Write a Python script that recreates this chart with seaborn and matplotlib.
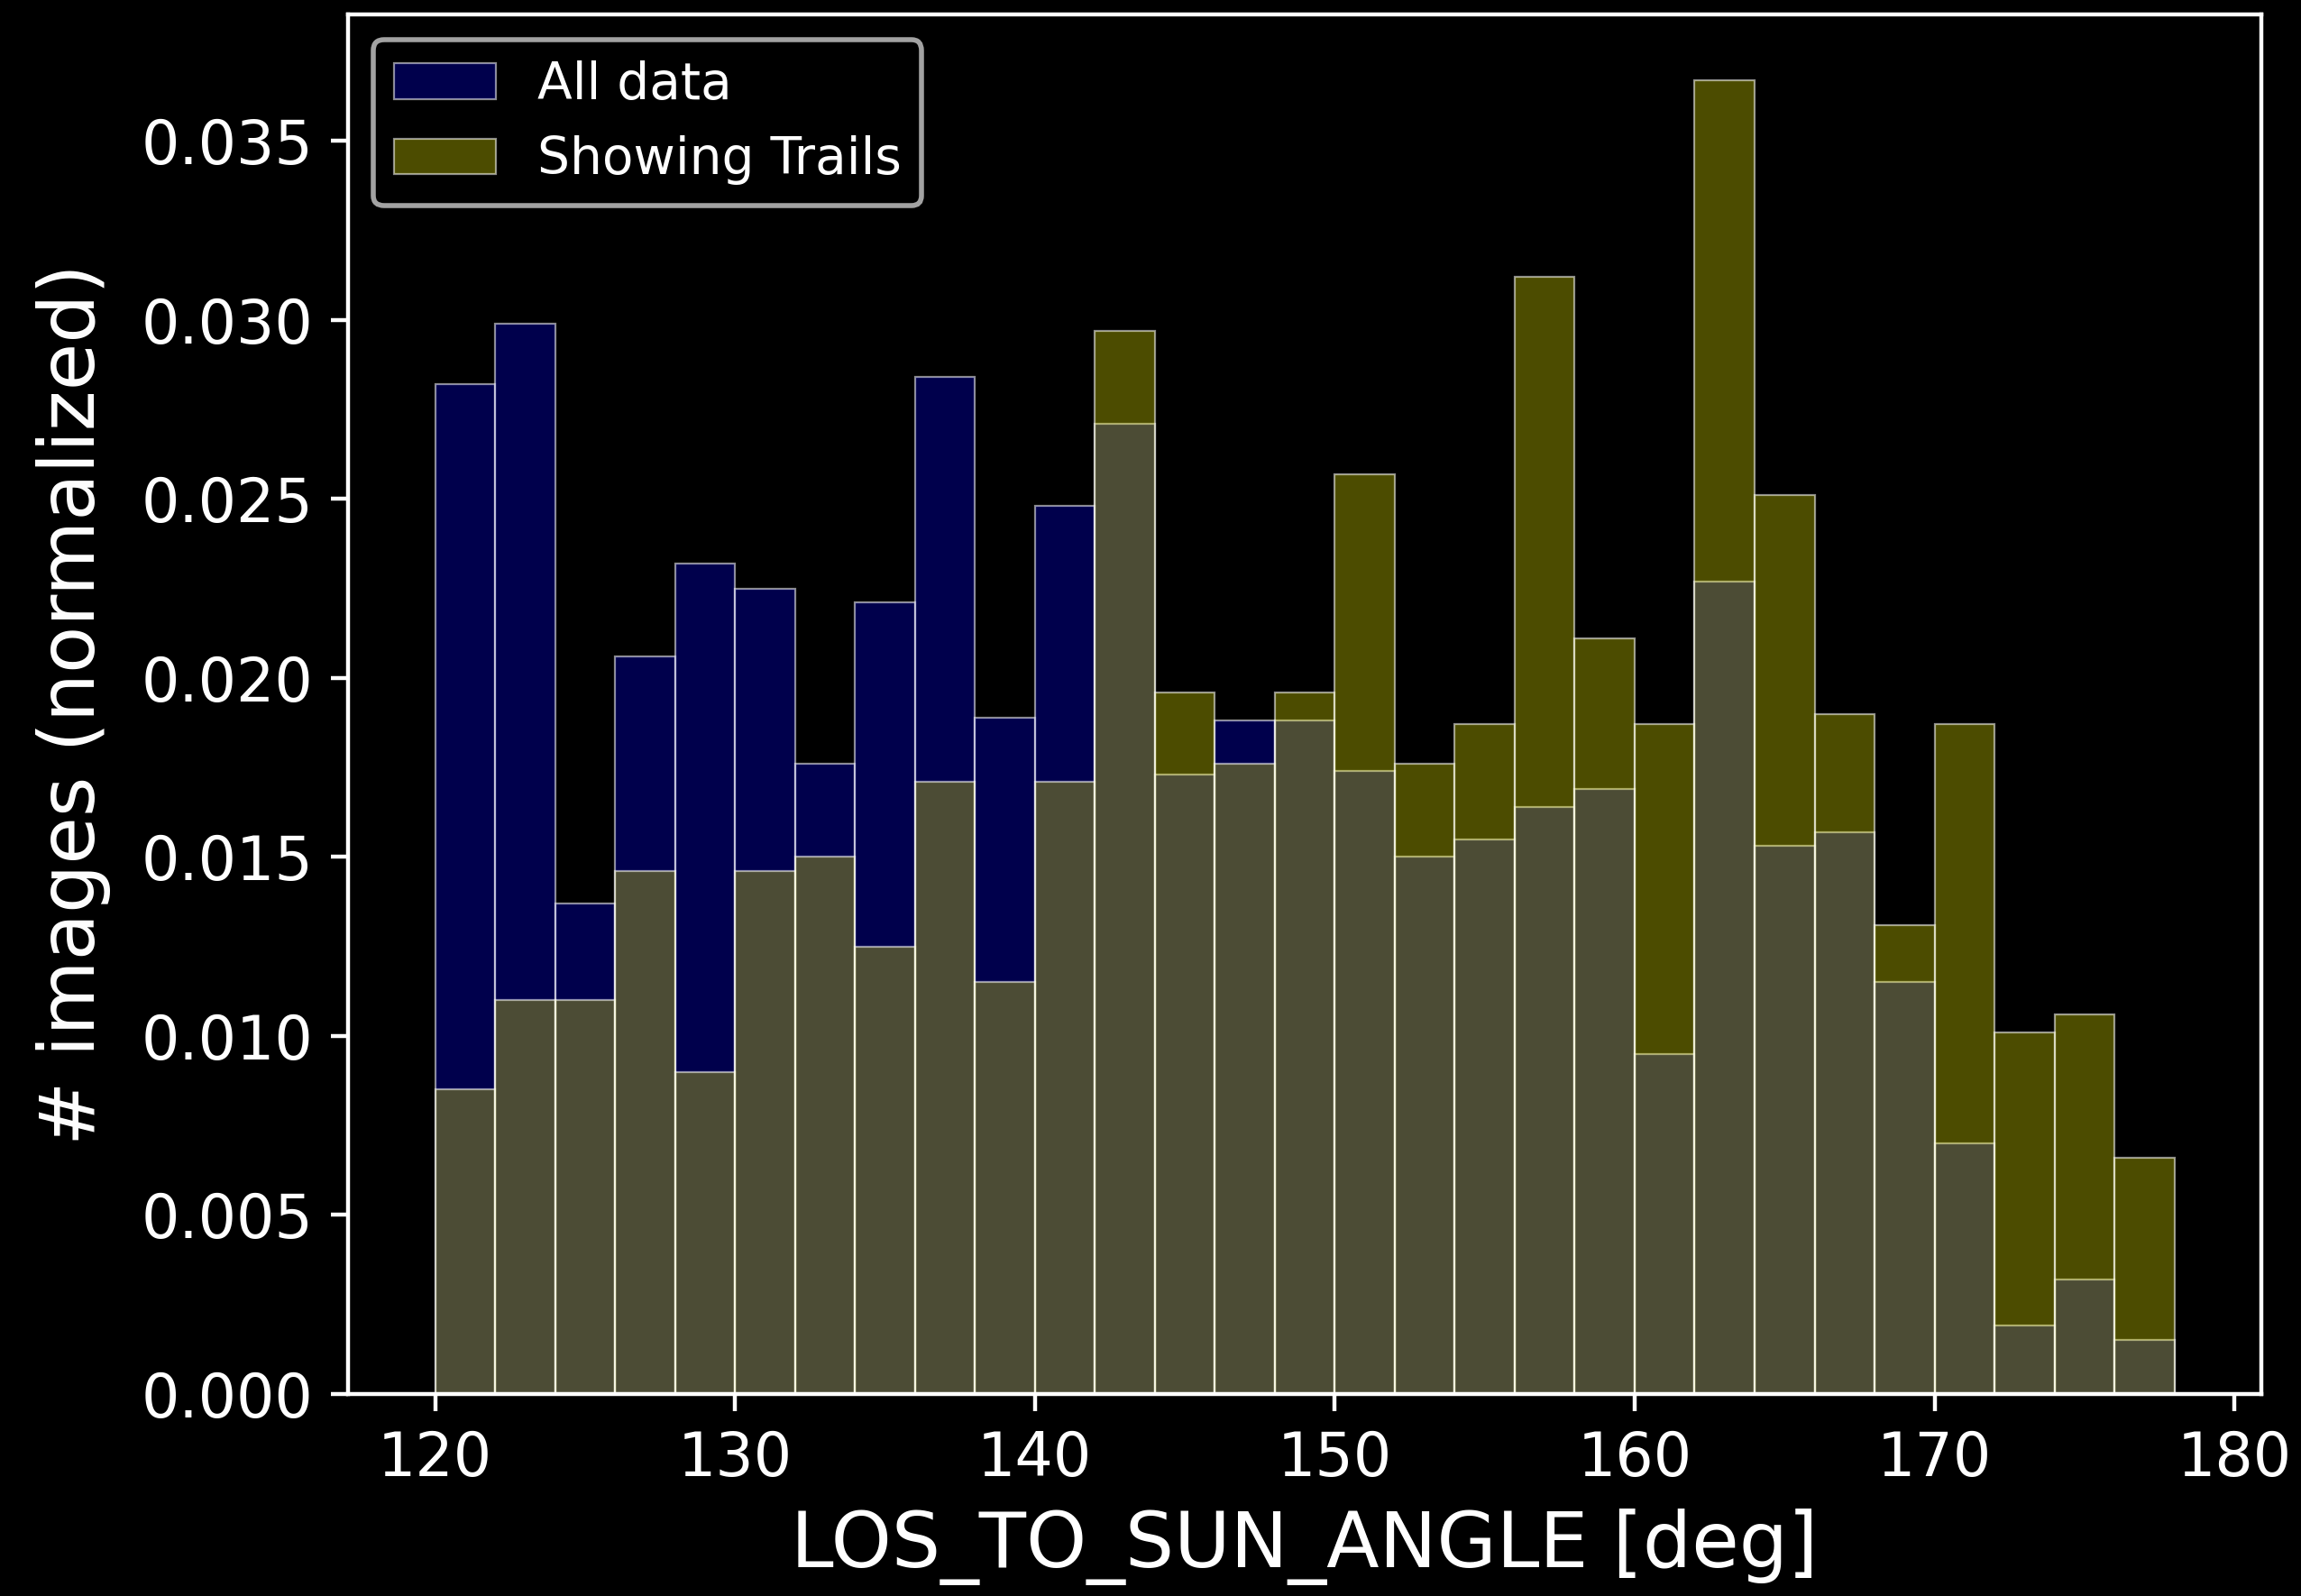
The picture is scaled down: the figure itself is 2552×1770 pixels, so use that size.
import numpy as np
import pandas as pd
import matplotlib
matplotlib.use("Agg")
import matplotlib.pyplot as plt
import seaborn as sns

# bin edges (deg) and normalized heights
bin_edges = np.arange(120, 180, 2)
bin_centers = bin_edges[:-1] + 1

all_data = [0.0282, 0.0299, 0.0137, 0.0206, 0.0232, 0.0225, 0.0176, 0.0221, 0.0284,
            0.0189, 0.0248, 0.0271, 0.0173, 0.0188, 0.0188, 0.0174, 0.0150, 0.0155,
            0.0164, 0.0169, 0.0095, 0.0227, 0.0153, 0.0157, 0.0115, 0.0070, 0.0019,
            0.0032, 0.0015]
trails = [0.0085, 0.0110, 0.0110, 0.0146, 0.0090, 0.0146, 0.0150, 0.0125, 0.0171,
          0.0115, 0.0171, 0.0297, 0.0196, 0.0176, 0.0196, 0.0257, 0.0176, 0.0187,
          0.0312, 0.0211, 0.0187, 0.0367, 0.0251, 0.0190, 0.0131, 0.0187, 0.0101,
          0.0106, 0.0066]

df_all = pd.DataFrame({"angle": bin_centers, "w": all_data})
df_trails = pd.DataFrame({"angle": bin_centers, "w": trails})

plt.style.use("dark_background")
plt.rcParams["font.family"] = ["DejaVu Sans"]

fig, ax = plt.subplots(figsize=(6.38, 4.425), dpi=400)
fig.subplots_adjust(left=0.1513, right=0.9828, top=0.991, bottom=0.1266)

brange = (bin_edges[0], bin_edges[-1])
edge = (1, 1, 1, 0.55)
sns.histplot(data=df_all, x="angle", weights="w", binwidth=2, binrange=brange,
             stat="count", color="blue", alpha=0.3, edgecolor=edge,
             linewidth=0.4, label="All data", ax=ax)
sns.histplot(data=df_trails, x="angle", weights="w", binwidth=2, binrange=brange,
             stat="count", color="yellow", alpha=0.3, edgecolor=edge,
             linewidth=0.4, label="Showing Trails", ax=ax)

ax.set_xlabel("LOS_TO_SUN_ANGLE [deg]", fontsize=15.4)
ax.set_ylabel("# images (normalized)", fontsize=15.4, labelpad=6)
ax.tick_params(labelsize=12)
ax.legend(loc="upper left", fontsize=10.2)

plt.savefig("out.png", dpi=400, facecolor="black")
